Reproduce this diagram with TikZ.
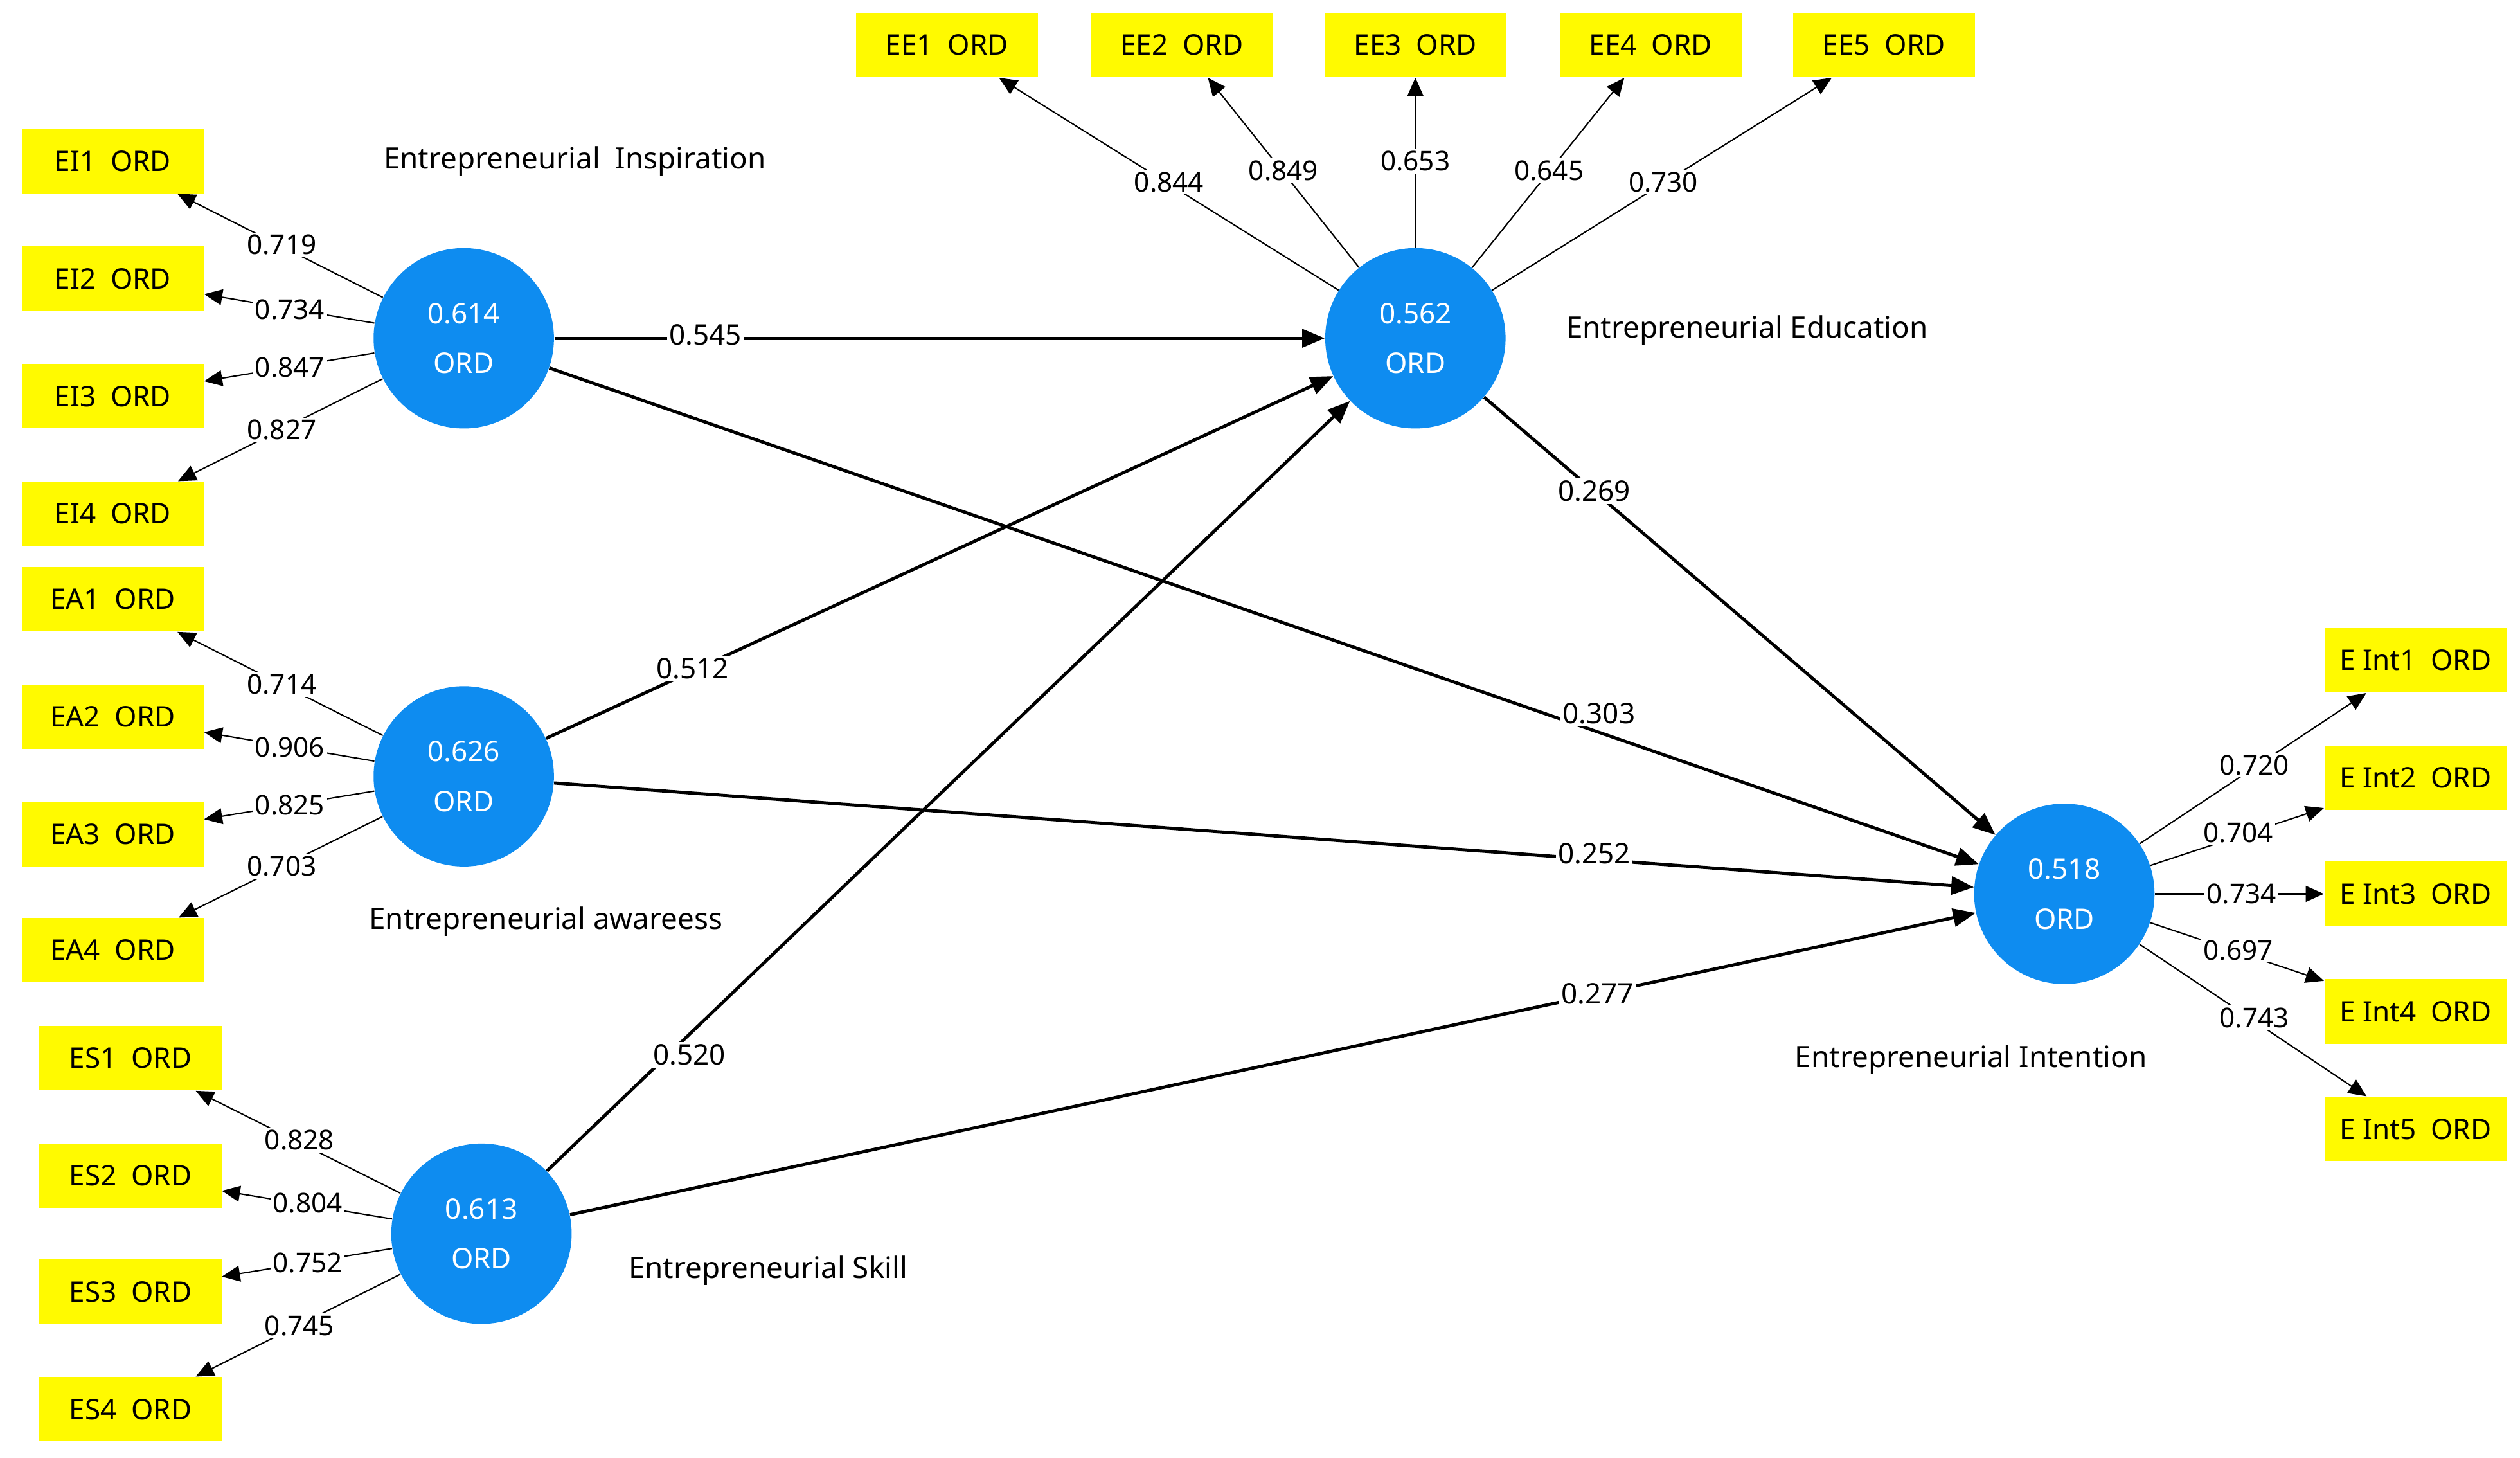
\documentclass[tikz,border=0pt]{standalone}
\usepackage{fontspec}
\setmainfont{Noto Sans}
\usetikzlibrary{arrows.meta}
\definecolor{yel}{RGB}{255,250,0}
\definecolor{blu}{RGB}{14,140,240}
\begin{document}
\begin{tikzpicture}[x=0.025cm,y=-0.025cm,
 box/.style={fill=yel,minimum width=113*0.025cm,minimum height=40*0.025cm,inner sep=0pt,font=\fontsize{12.5}{14}\selectfont},
 lv/.style={circle,fill=blu,minimum size=112*0.025cm,inner sep=0pt,align=center,text=white,font=\fontsize{12.5}{22}\selectfont},
 ld/.style={-{Triangle[length=8pt,width=7pt]},line width=0.6pt},
 pa/.style={-{Triangle[length=10pt,width=8pt]},line width=1.4pt},
 lab/.style={fill=white,inner sep=1pt,font=\fontsize{12}{14}\selectfont},
 plab/.style={fill=white,inner sep=1pt,font=\bfseries\fontsize{12.5}{14}\selectfont},
 nm/.style={font=\bfseries\fontsize{13}{15}\selectfont}]
\useasboundingbox[fill=white] (0,0) rectangle (1565,905);
% latent variables
\node[lv] (ei) at (288,210) {\textbf{0.614}\\ORD};
\node[lv] (ea) at (288,482) {\textbf{0.626}\\ORD};
\node[lv] (es) at (299,766) {\textbf{0.613}\\ORD};
\node[lv] (ee) at (879,210) {\textbf{0.562}\\ORD};
\node[lv] (en) at (1282,555) {\textbf{0.518}\\ORD};
% indicators
\node[box] (ei1) at (70,100) {EI1\ \ ORD};
\node[box] (ei2) at (70,173) {EI2\ \ ORD};
\node[box] (ei3) at (70,246) {EI3\ \ ORD};
\node[box] (ei4) at (70,319) {EI4\ \ ORD};
\node[box] (ea1) at (70,372) {EA1\ \ ORD};
\node[box] (ea2) at (70,445) {EA2\ \ ORD};
\node[box] (ea3) at (70,518) {EA3\ \ ORD};
\node[box] (ea4) at (70,590) {EA4\ \ ORD};
\node[box] (es1) at (81,657) {ES1\ \ ORD};
\node[box] (es2) at (81,730) {ES2\ \ ORD};
\node[box] (es3) at (81,802) {ES3\ \ ORD};
\node[box] (es4) at (81,875) {ES4\ \ ORD};
\node[box] (ee1) at (588,28) {EE1\ \ ORD};
\node[box] (ee2) at (734,28) {EE2\ \ ORD};
\node[box] (ee3) at (879,28) {EE3\ \ ORD};
\node[box] (ee4) at (1025,28) {EE4\ \ ORD};
\node[box] (ee5) at (1170,28) {EE5\ \ ORD};
\node[box] (en1) at (1500,410) {E Int1\ \ ORD};
\node[box] (en2) at (1500,483) {E Int2\ \ ORD};
\node[box] (en3) at (1500,555) {E Int3\ \ ORD};
\node[box] (en4) at (1500,628) {E Int4\ \ ORD};
\node[box] (en5) at (1500,701) {E Int5\ \ ORD};
% loadings
\foreach \a/\b in {ei/ei1,ei/ei2,ei/ei3,ei/ei4,ea/ea1,ea/ea2,ea/ea3,ea/ea4,es/es1,es/es2,es/es3,es/es4,ee/ee1,ee/ee2,ee/ee3,ee/ee4,ee/ee5,en/en1,en/en2,en/en3,en/en4,en/en5}
  \draw[ld] (\a) -- (\b);
% paths
\draw[pa] (ei) -- (ee);
\draw[pa] (ea) -- (ee);
\draw[pa] (es) -- (ee);
\draw[pa] (ei) -- (en);
\draw[pa] (ea) -- (en);
\draw[pa] (es) -- (en);
\draw[pa] (ee) -- (en);
% loading labels
\node[lab] at (175,152) {0.719};
\node[lab] at (180,192) {0.734};
\node[lab] at (180,228) {0.847};
\node[lab] at (175,267) {0.827};
\node[lab] at (175,425) {0.714};
\node[lab] at (180,464) {0.906};
\node[lab] at (180,500) {0.825};
\node[lab] at (175,538) {0.703};
\node[lab] at (186,708) {0.828};
\node[lab] at (191,747) {0.804};
\node[lab] at (191,784) {0.752};
\node[lab] at (186,823) {0.745};
\node[lab] at (726,113) {0.844};
\node[lab] at (797,106) {0.849};
\node[lab] at (879,100) {0.653};
\node[lab] at (962,106) {0.645};
\node[lab] at (1033,113) {0.730};
\node[lab] at (1400,475) {0.720};
\node[lab] at (1390,517) {0.704};
\node[lab] at (1392,555) {0.734};
\node[lab] at (1390,590) {0.697};
\node[lab] at (1400,632) {0.743};
% path labels
\node[plab] at (438,208) {0.545};
\node[plab] at (430,415) {0.512};
\node[plab] at (428,655) {0.520};
\node[plab] at (993,443) {0.303};
\node[plab] at (990,530) {0.252};
\node[plab] at (992,617) {0.277};
\node[plab] at (990,305) {0.269};
% construct names
\node[nm] (n1) at (357,100) {Entrepreneurial\ \ Inspiration};
\node[nm] (n2) at (1085,205) {Entrepreneurial Education};
\node[nm] (n3) at (339,572) {Entrepreneurial awareess};
\node[nm] (n4) at (477,789) {Entrepreneurial Skill};
\node[nm] (n5) at (1224,658) {Entrepreneurial Intention};
\end{tikzpicture}
\end{document}
